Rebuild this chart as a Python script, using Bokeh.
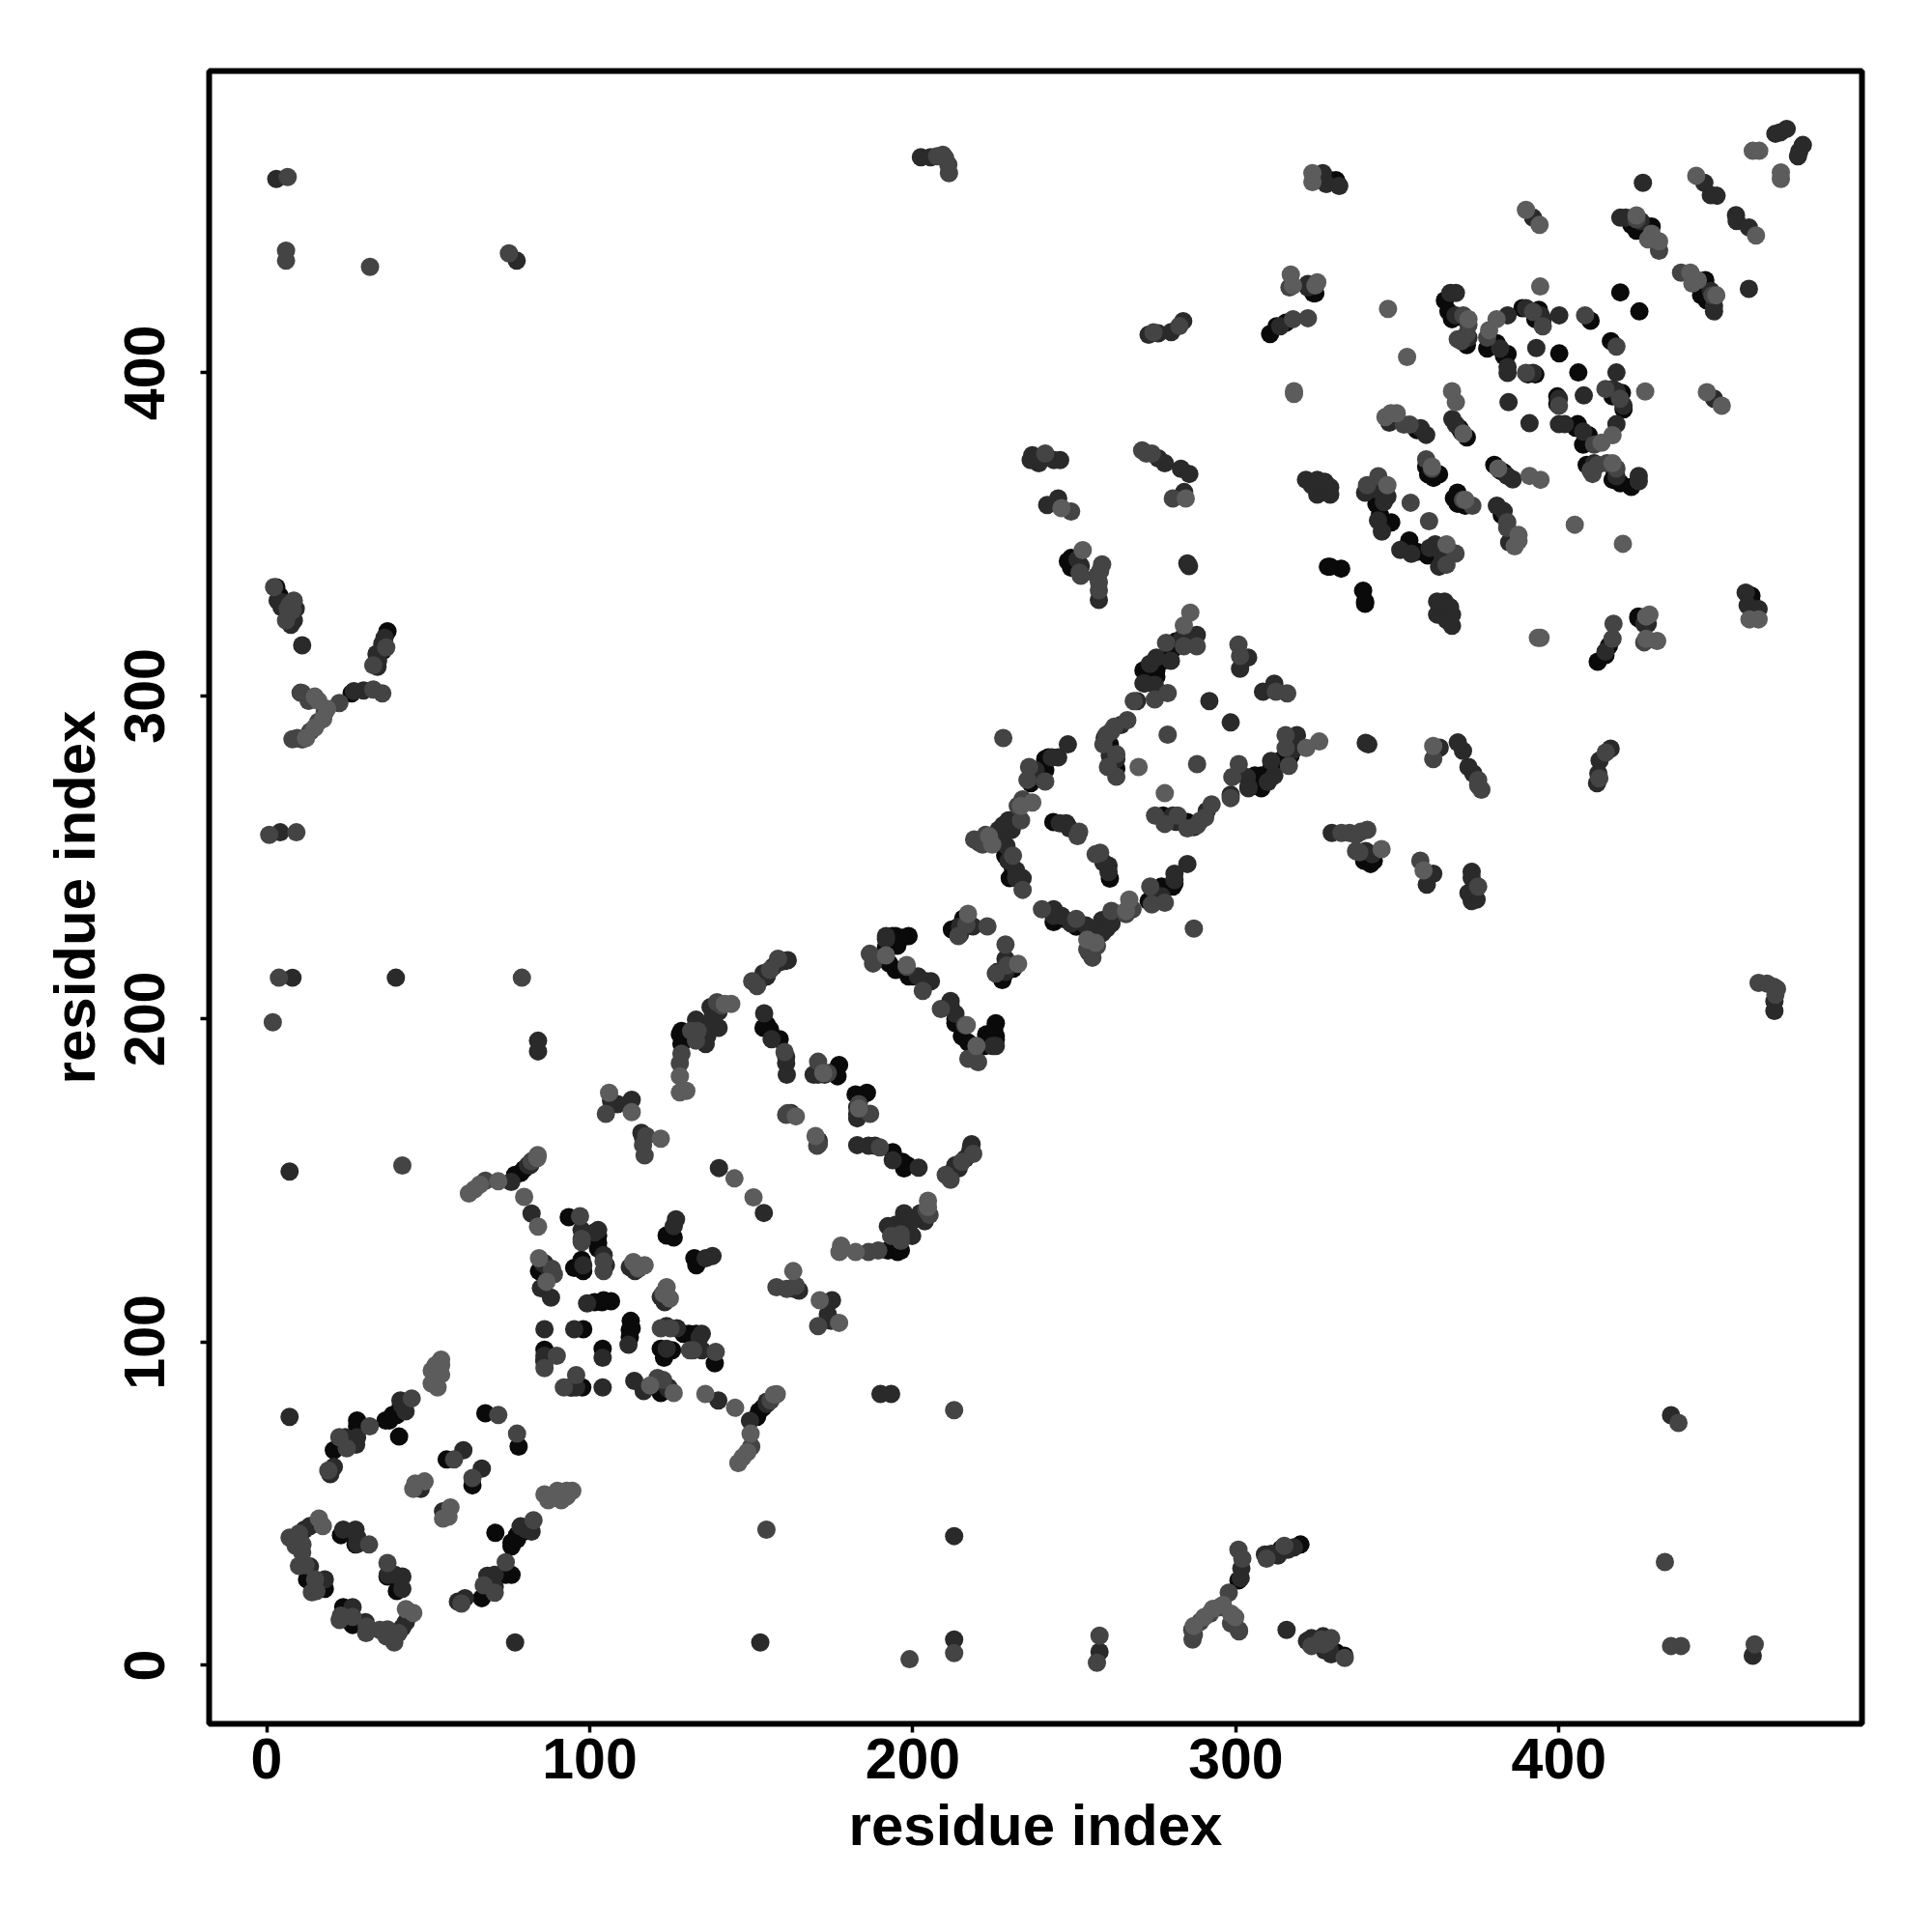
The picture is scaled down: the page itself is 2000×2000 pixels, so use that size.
from bokeh.plotting import figure
from bokeh.models import Range1d, FixedTicker
from bokeh.embed import file_html
from bokeh.resources import INLINE

# Contact pairs (residue i, residue j), one side of the symmetric map
black = [(18,23.7),(12.5,26.6),(20.8,66.6),(28,75.8),(38,75.8),(40.3,77.5),(41,70.8),(67.7,78),(55.7,63.7),
 (93.5,138.7),(102.6,130.7),(95.2,123),(84.3,122),(103.8,112.4),(106.6,112.7),(98,104),(86,97.7),(126,132.4),(78.6,152.4),
 (127.9,195.3),(128.4,192.3),(154.8,198.3),(158.8,193.8),(177.2,185.8),(176.7,182.3),(194.7,225.7),(198.7,225.7),(191.7,222.2),
 (195.2,222.7),(194.7,215.2),(198.7,213.2),(213.6,228.2),(279.4,314.9),(271.4,307.9),(275.4,307.9),(261,285),(263,277.5),
 (241,280.5),(241,277),(243.5,261),(228.6,250.6),(231,246.6),(230,243.6),(341.7,248),(339.7,249),(331,459.6),(426.4,445.8),
 (424,444),(324.6,424.6),(310.6,412),(366.9,416.6),(409.8,416.1),(400.1,406),(419,424.9),(380.7,409.2),(384.1,405.8),
 (377.8,407.5),(392.7,399.5),(371.5,380),(369.8,381.8),(362.9,368.6),(359.5,368.6),(343.5,361.7),(348.1,353.7),(329.2,340),
 (332.6,339.4),(328.5,340),(3,333.6),(37.4,320),(26.3,300.8),
 (23,40.3),(27.5,37.4),(28,74),(36.8,75.8),(39,77.5),(41.4,79.7),(102.6,133),(102.6,129),(97.5,125.5),(98,122),(85,123),
 (104.3,113),(123.8,133),(101.5,112.4),(86,94),(76.9,151.8),(79.7,153.6),(131.9,196.3),(128.4,196.3),(155.8,196.8),(153.8,197.3),
 (170.7,183.3),(175.7,183.8),(192.7,222.2),(195.2,224.7),(193.7,225.7),(196.7,225.2),(192.7,217.2),(200.1,213.2),(212.1,227.7),
 (215.6,231.1),(281.4,316.9),(280.4,314.4),(277.4,310.9),(275.4,305.9),(260.4,286),(242,281),(240,277.5),(236.5,273),(228,257.6),
 (340.7,250),(342.7,249),(422.4,445.8),(428.7,445.3),(364.7,422.4),(365.8,419),(369.8,417.2),(371.5,408.6),(388.7,420),(393.8,419.5),
 (392.7,416.6),(378.4,409.8),(383,405.2),(390.4,399.5),(356,382.3),(358.9,371),(361.2,367.5),(369.2,382.9),(343.5,359.4),
 (344.6,356),(345.2,353.7),(324,424.6),(312.6,414.4),(315.5,415.5),(329.2,459.6),(331.5,458.4),(4,331),(36,314)]
dark = [(18,26.6),(23.7,42),(28,39.7),(28,37.5),(11.7,42),(13.4,43.1),(20.8,61.4),(24.3,70.6),(28,70.6),(42,80.4),(60.9,66.6),
 (97.5,134.7),(102.6,134.7),(98,123.8),(85.5,124.4),(84.9,116.7),(88,113.8),(99.2,112),(112.4,123.2),(114,122),(86,104),
 (95.2,104),(86,94.6),(126,135.9),(140,153.9),(82,139.8),(81.6,154.8),(7.1,76.9),(7.1,152.8),(47.7,54.6),
 (132.9,199.8),(136.4,194.8),(136.9,198.3),(139.9,197.3),(137.4,203.7),(154,201.8),(156.3,193.8),(160.8,186.3),(161,182.8),
 (170.7,182.8),(158.8,217.7),(160.3,218),(153.3,212.7),(191.7,225.7),(201.6,213.2),(205.6,211.7),(218.6,228.7),(164.8,116),
 (175,113),(174.7,106.6),(173.7,108.6),(283.4,317.9),(287.9,318.9),(275.4,311.9),(279.9,310.9),(271.9,303.9),(274.9,303.4),
 (269.4,298.4),(263,280.5),(248,285),(245,281),(237,275),(230,261.5),(228.6,258),(229,253.6),(234,243.6),(247.5,260.6),
 (303.8,311.9),(301.3,308.4),(291.8,298.4),(329.7,257.6),(340.2,252),(361.1,245),(359.1,241.6),(340.2,285.5),(341,285),
 (363.1,284),(468.5,474.4),(445,458.8),(448.8,454.8),(447,455),(426,458.8),(392,448),(326.9,461.8),(328,458.4),(332,457.8),
 (419,448),(322.3,426.4),(313.7,414.4),(366.4,424.7),(372,410.9),(384.1,417.8),(389.8,420),(394.4,417.8),(400.1,417.8),
 (393,407.7),(384.1,400),(384.4,390.9),(357.2,382.9),(358.9,380.8),(368.1,384),(340,362.9),(346.9,361.7),(344,354.3),
 (345.2,350.9),(321.7,366.9),(325.2,366.9),(329.2,364.6),(325.2,362.3),(329.2,362.3),(3,460),(77.4,434.7),(202.5,466.7),
 (205.5,466.7),(273,411.8),(276,412.2),(283.7,416),(280,412.6),(238,374),(240,373.5),(243.7,373),(245.6,373),(278,372),
 (283,370.3),(285.6,368.7),(3.4,329.5),(4.6,327.5),(8.4,323.4),(11,315.7),(35.8,316.1),(34,313),(34.3,309),(30,301.7),
 (4.2,257.8),(8,212.8),(40,212.8),(84,193.3),(84,190),
 (13.4,30.6),(27.5,42),(19.7,59.2),(27.7,68.3),(43,78.6),(41.4,82),(101.5,134),(104.3,127),(105,123.8),(86,124.4),(87.2,123),
 (126.7,138),(86,95.8),(80.9,154.8),(75.7,149.6),(152.3,211.7),(153.8,214.2),(154.8,213.2),(156.8,216.2),(161.3,218.2),(134.9,196.3),
 (137.9,200.3),(139.9,202.3),(135.9,192.3),(160.8,188.3),(172.7,182.8),(169.3,182.8),(191.7,224.7),(204.1,211.7),(214.6,228.7),
 (214.6,226.2),(162.3,170.9),(163.3,116.5),(284.4,317.9),(273.4,309.9),(271.4,303.9),(264.4,291),(259.4,287),(261,281.5),
 (243,281),(238,277),(229.6,261.5),(228,260),(230.6,258.6),(226.6,258.6),(220.6,254.6),(229.6,249),(232,246),(232,243.6),
 (245.5,260.6),(248.5,259),(342.2,251),(425.3,447),(420.7,448),(368.1,424.7),(368,417.8),(395,416.6),(381.8,407.5),(384.1,401.8),
 (392,400),(347.5,384.6),(367,385.7),(342.9,364),(345.8,360),(323.5,365.2),(327.5,366.3),(322.3,427.5),(325.8,460.7),
 (5,329),(9,327),(7,325),(7.5,322),(36.5,318),(34.5,311),(27,301.5),(239,372),
 (470.5,475.5),(467,474),(237,374.5),(236.5,373),(276,373.5)]
mid = [(7.1,39.5),(11.1,37.4),(10,40.8),(12,31),(15.4,23),(31.7,37.4),(19.1,60.3),(24.8,67.2),(31.9,74),(44.9,82.6),(71.7,77.5),
 (58,63.7),(97,139),(97.5,131),(104.3,125),(88.3,122.7),(88.9,121),(89.8,95.8),(86,92),(42,154.7),(67.7,150),
 (151.8,210.2),(155.8,215.2),(132.9,193.3),(131.4,196.3),(160.3,189.8),(170.7,186.8),(173.7,183.3),(187.7,219.2),(187.7,217.2),
 (198.1,216.2),(203.1,208.7),(214.1,225.7),(223.1,228.7),(161.3,170.9),(140.9,204.2),(127.9,186.3),(157.8,117),(161,116.5),
 (170.7,105),(287.9,315.4),(278.9,300.9),(274.9,298.9),(266.4,292.5),(262.4,290.5),(260,288),(259,285),(263,275),(260.4,278),
 (236,278),(241,273.5),(233.5,261.5),(219,255.6),(221.6,254),(231,250.6),(234,240),(251.5,258),(300.8,315.9),(278.9,288),
 (228,287),(332.7,257.6),(337.2,257),(340.7,258.6),(337.2,252),(357.1,249),(361.1,280.5),(424,447.5),(431,437.8),(317.7,416.6),
 (322.3,416.9),(370.4,417.8),(372,414.9),(369.8,409.8),(392,418.9),(395,414.4),(408.1,417.8),(377.8,410.9),(389.8,400),
 (353.8,384),(358.9,373.2),(360.7,370.3),(344.1,368),(354.1,359.8),(6.5,460.6),(6,437.8),(6,434.7),(32,432.8),(75,437),
 (209.3,467.5),(211,464.4),(211.2,461.8),(272.3,375),(2.3,333.7),(7.2,328.3),(8.4,329.5),(6,323.4),(37,315),(35.8,300.8),
 (22.5,297.8),(11,300.9),(8,286.6),(0.8,257),(9.2,257.8),(3.8,212.8),(79,212.8),(1.9,199),
 (9,37),(11,35),(10,30.8),(15,26.6),(14,22.6),(22.5,70.6),(97.5,132),(104.3,122),(115,122.7),(82,156),(150.3,211.7),(158.3,218.7),
 (133.4,196.3),(139.4,205.2),(128.4,189.3),(186.7,220.2),(216.6,229.2),(160.8,170.4),(163.8,117.5),(278.4,316.4),(283.9,315.4),
 (268.4,298.4),(261.4,289),(263,282),(235.5,274),(234,268),(232.5,266),(222.6,257),(251,256.6),(301.3,312.4),(338.2,251.6),
 (335.2,257.6),(338.7,258),(371.5,412),(368.7,410.4),(352,384),(340.6,365.2),(316.6,426.4),(6.5,327),(8,326.5),(33,309.5),(33,302),
 (13,298.5),(18,295),(16,292),(13.5,289),(11,286.5),(10.5,301),(9.5,287),(207.5,467),(210,466.5),(274.5,412.5),(282.5,414.5),
 (241,375),(274,375),(271,376)]
light = [(16.2,45.4),(17.4,43.1),(52.9,86),(53.4,90),(54,92.9),(48.9,56.9),(45.4,54.6),(84.3,126),(86.6,118.7),(64.3,147.3),
 (71.7,149.8),(79.7,145),(84,135.8),(83.9,157.9),(144.8,150.7),(117,123.8),(115,123),(127.9,182.3),(129.9,177.8),(127.9,177.3),
 (143.8,204.7),(163.8,169.9),(217.1,232.6),(171.2,113),(163,122),(177.2,106),(285.9,325.8),(283.9,321.8),(269.9,278),
 (223.6,256.6),(224.6,254),(233.5,266),(237,267),(345.1,252.6),(358.1,246),(361.1,284.5),(460,468.7),(462,468.7),(442.5,461),
 (323.7,461.8),(323.7,459),(389.8,450.4),(394,445.8),(428.7,443),(431,440.7),(317,430.4),(317.7,427),(324.6,427),(347.1,419.8),
 (353,404.9),(318,394.3),(318,393.5),(394.2,426.7),(380.7,416.6),(346.3,386.3),(349.8,387.5),(366.9,394.3),(368.1,390.9),
 (346.9,365.2),(18.7,296),(17.5,292.9),(14.9,290.2),(12.2,287),(14.9,299.8),
 (51.1,87.2),(51.1,91.2),(52.3,92.9),(54,94.6),(54,90),(46,56.3),(113.5,124.8),(66,148.8),(62.6,146),(83.8,157),(141.8,204.7),
 (191.7,219.7),(198.1,216.7),(172.3,183.3),(424,448.7),(427.6,441.3),(372,416.6),(378.4,413.2),(348,387.5),(360.7,371),(370.4,381.2),
 (325.2,428),(16,298.5)]
shades = {"#0a0a0a": black, "#2a2a2a": dark, "#444444": mid, "#5c5c5c": light}
tick_values = [0, 100, 200, 300, 400]
axis_title = "residue index"

p = figure(frame_width=1711, frame_height=1711, min_border_left=216, min_border_top=73,
           min_border_right=60, min_border_bottom=190, toolbar_location=None, output_backend="svg",
           x_range=Range1d(-17.8, 493.8), y_range=Range1d(-18.1, 493.4))
p.grid.visible = False
p.outline_line_color = "black"
p.outline_line_width = 6
p.background_fill_color = "white"
p.border_fill_color = "white"

for color, pairs in shades.items():
    i = [a for a, b in pairs]
    j = [b for a, b in pairs]
    # the map is symmetric, so each pair is drawn on both sides of the diagonal
    p.scatter(i + j, j + i, marker="circle", size=19, fill_color=color, line_color=None)

for ax in (p.xaxis[0], p.yaxis[0]):
    ax.ticker = FixedTicker(ticks=tick_values)
    ax.axis_line_color = None
    ax.minor_tick_line_color = None
    ax.major_tick_in = 0
    ax.major_tick_out = 9
    ax.major_tick_line_width = 3.5
    ax.major_tick_line_color = "black"
    ax.major_label_text_font = "Liberation Sans"
    ax.major_label_text_font_style = "bold"
    ax.major_label_text_font_size = "59px"
    ax.major_label_text_color = "black"
    ax.axis_label = axis_title
    ax.axis_label_text_font = "Liberation Sans"
    ax.axis_label_text_font_style = "bold"
    ax.axis_label_text_font_size = "60px"
    ax.axis_label_text_color = "black"
p.xaxis[0].major_label_standoff = 6
p.xaxis[0].axis_label_standoff = 12
p.yaxis[0].major_label_orientation = "vertical"
p.yaxis[0].major_label_standoff = 37
p.yaxis[0].axis_label_standoff = 16

open("out.html", "w").write(file_html(p, INLINE))
